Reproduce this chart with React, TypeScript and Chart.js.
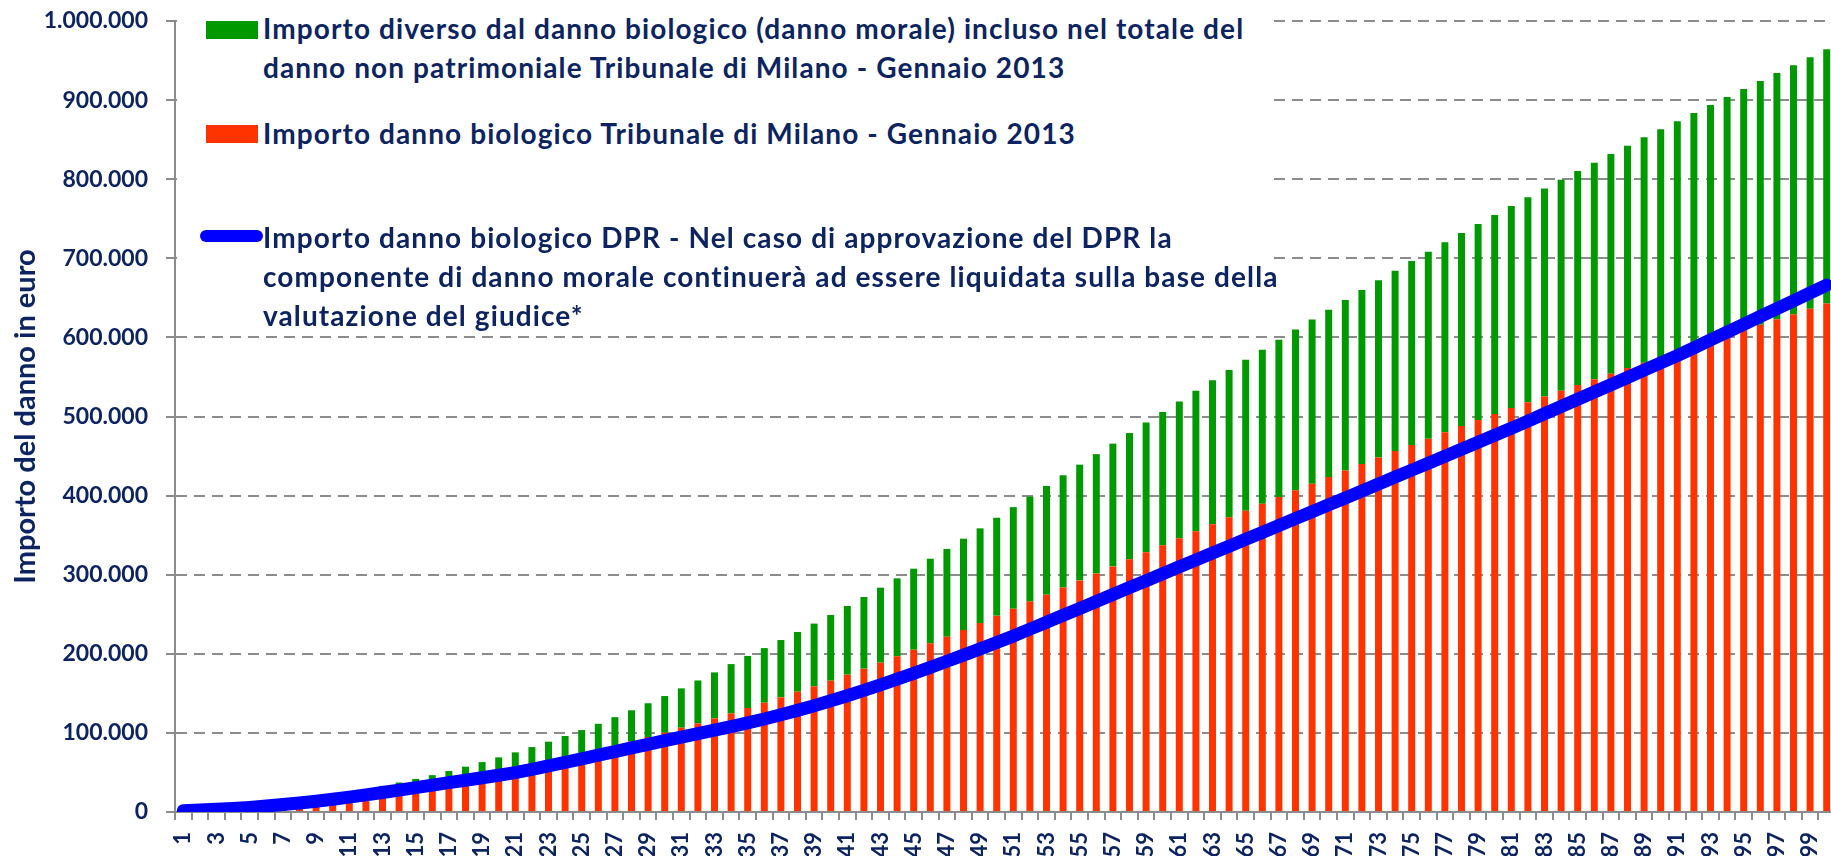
import React, { useEffect, useRef } from 'react';
import { Chart, registerables } from 'chart.js';

Chart.register(...registerables);

// Punti di invalidità (categorie asse X)
const punti: string[] = [
  '1','2','3','4','5','6','7','8','9','10','11','12','13','14','15','16','17','18','19','20',
  '21','22','23','24','25','26','27','28','29','30','31','32','33','34','35','36','37','38','39','40',
  '41','42','43','44','45','46','47','48','49','50','51','52','53','54','55','56','57','58','59','60',
  '61','62','63','64','65','66','67','68','69','70','71','72','73','74','75','76','77','78','79','80',
  '81','82','83','84','85','86','87','88','89','90','91','92','93','94','95','96','97','98','99','100',
];

// Importo danno biologico Tribunale di Milano - Gennaio 2013 (euro)
const dannoBiologicoMilano: number[] = [
  1040, 2080, 3200, 4640, 6240, 8160, 10240, 12480, 14880, 17300,
  19900, 22600, 25500, 28600, 31800, 35200, 38900, 42600, 46600, 50600,
  54800, 59300, 63700, 68300, 74000, 78400, 83900, 89300, 94800, 100300,
  106600, 112100, 118400, 124700, 131500, 138200, 145000, 152100, 158900, 166000,
  173600, 181200, 188800, 196800, 205200, 213300, 221600, 230100, 238900, 248200,
  257000, 266000, 274700, 283800, 292800, 301600, 310500, 319400, 328300, 337100,
  346000, 355000, 363800, 372600, 381000, 389600, 398100, 406700, 415000, 423400,
  431700, 440000, 448200, 456300, 464100, 472000, 480000, 488000, 495600, 503200,
  510600, 518000, 525200, 532500, 539800, 547000, 554200, 561400, 568100, 575200,
  582000, 588800, 595500, 602500, 609400, 615900, 622800, 629400, 636100, 643000,
];

// Importo diverso dal danno biologico (danno morale) - Tribunale di Milano (euro)
const dannoMoraleMilano: number[] = [
  260, 520, 800, 1160, 1560, 2040, 2560, 3120, 3720, 4500,
  5400, 6400, 7500, 8700, 10000, 11400, 12900, 14700, 16500, 18500,
  20600, 22800, 25200, 27800, 29600, 33100, 36000, 39300, 42700, 46300,
  49700, 54200, 58100, 62300, 65800, 69000, 72400, 75500, 79300, 83100,
  86800, 90600, 94800, 98600, 102400, 106900, 111000, 115400, 119700, 123800,
  128400, 132700, 137500, 141900, 146300, 150800, 155200, 159700, 164100, 168600,
  173000, 177400, 181900, 186300, 190600, 194800, 199000, 203300, 207500, 211700,
  215700, 219800, 223900, 228100, 232500, 236400, 240200, 244000, 247800, 251600,
  255500, 259100, 263200, 266900, 270500, 273900, 277600, 281000, 284800, 287900,
  291300, 294800, 298300, 301400, 304600, 308200, 311400, 314600, 318000, 321200,
];

// Importo danno biologico DPR (euro)
const dannoBiologicoDPR: number[] = [
  1700, 2400, 3400, 4400, 5800, 7500, 9400, 11400, 13600, 16100,
  18800, 21600, 24600, 27700, 30800, 34000, 37100, 40200, 43300, 46500,
  49700, 53900, 58200, 62600, 67200, 71800, 76400, 81000, 85600, 90200,
  94600, 99000, 103400, 107900, 112600, 117600, 122900, 128500, 134400, 140600,
  147000, 153800, 160800, 168000, 175400, 182900, 190600, 198400, 206300, 214300,
  222400, 231200, 239900, 248700, 257400, 266200, 275000, 283700, 292500, 301200,
  310000, 318700, 327400, 336100, 344800, 353500, 362200, 370900, 379600, 388300,
  397000, 405800, 414600, 423400, 432200, 441000, 449800, 458600, 467400, 476200,
  485000, 494200, 503400, 512600, 521800, 531000, 540200, 549400, 558600, 567800,
  577000, 586900, 596800, 606700, 616600, 626500, 636400, 646300, 656200, 666100,
];

const legendMorale: string[] = [
  'Importo diverso dal danno biologico (danno morale) incluso nel totale del',
  'danno non patrimoniale Tribunale di Milano - Gennaio 2013',
];
const legendBiologico: string[] = ['Importo danno biologico Tribunale di Milano - Gennaio 2013'];
const legendDPR: string[] = [
  'Importo danno biologico DPR - Nel caso di approvazione del DPR la',
  'componente di danno morale continuerà ad essere liquidata sulla base della',
  'valutazione del giudice*',
];
const yAxisTitle = 'Importo del danno in euro';

const GREEN = '#009900';
const RED = '#FF3300';
const BLUE = '#0000FF';
const NAVY = '#0C2461';
const GRID = '#8C8C8C';
const FONT = 'Lato, "Open Sans", sans-serif';

const fmt = (v: number) => String(Math.round(v)).replace(/\B(?=(\d{3})+(?!\d))/g, '.');

export default function App() {
  const ref = useRef<HTMLCanvasElement | null>(null);

  useEffect(() => {
    document.body.style.margin = '0';
    document.body.style.overflow = 'hidden';
    const canvas = ref.current;
    if (!canvas) return;
    const chart = new Chart(canvas, {
      type: 'bar',
      data: {
        labels: punti,
        datasets: [
          {
            type: 'line',
            label: legendDPR.join(' '),
            data: dannoBiologicoDPR,
            borderColor: BLUE,
            backgroundColor: BLUE,
            borderWidth: 13,
            pointRadius: 0,
            borderCapStyle: 'round',
            borderJoinStyle: 'round',
            fill: false,
            tension: 0,
            order: 0,
            stack: 'dpr',
          } as any,
          {
            type: 'bar',
            label: legendBiologico.join(' '),
            data: dannoBiologicoMilano,
            backgroundColor: RED,
            borderWidth: 0,
            barPercentage: 0.42,
            categoryPercentage: 1,
            order: 1,
            stack: 'milano',
          } as any,
          {
            type: 'bar',
            label: legendMorale.join(' '),
            data: dannoMoraleMilano,
            backgroundColor: GREEN,
            borderWidth: 0,
            barPercentage: 0.42,
            categoryPercentage: 1,
            order: 1,
            stack: 'milano',
          } as any,
        ],
      },
      options: {
        responsive: false,
        animation: false,
        devicePixelRatio: 1,
        layout: { padding: { top: 21, right: 5, left: 0, bottom: 0 } },
        plugins: {
          legend: { display: false },
          tooltip: { enabled: false },
        },
        scales: {
          x: {
            stacked: true,
            offset: true,
            grid: {
              drawOnChartArea: false,
              drawTicks: true,
              offset: true,
              tickLength: 8,
              tickWidth: 2,
              tickColor: GRID,
              color: GRID,
              lineWidth: 2,
            },
            border: { display: true, color: GRID, width: 2 },
            ticks: {
              autoSkip: false,
              minRotation: 90,
              maxRotation: 90,
              padding: 12,
              color: NAVY,
              font: { family: FONT, weight: 'bold', size: 22 },
              callback: (_v: any, i: number) => (i % 2 === 0 ? punti[i] : ''),
            },
            afterFit: (s: any) => {
              s.height = 88;
              s.paddingLeft = 0;
              s.paddingRight = 0;
            },
          } as any,
          y: {
            stacked: true,
            min: 0,
            max: 1000000,
            grid: {
              color: GRID,
              lineWidth: 2,
              tickLength: 9,
              tickWidth: 2,
              tickColor: GRID,
              tickBorderDash: [],
            },
            border: { display: true, color: GRID, width: 2, dash: [11, 7] },
            ticks: {
              stepSize: 100000,
              padding: 18,
              color: NAVY,
              font: { family: FONT, weight: 'bold', size: 23 },
              callback: (v: any) => fmt(Number(v)),
            },
            title: {
              display: true,
              text: yAxisTitle,
              color: NAVY,
              font: { family: FONT, weight: 'bold', size: 29 },
              padding: { top: 8, bottom: 0 },
            },
            afterFit: (s: any) => {
              s.width = 175;
              s.paddingTop = 0;
              s.paddingBottom = 0;
            },
          } as any,
        },
      },
    });
    return () => chart.destroy();
  }, []);

  const textStyle: React.CSSProperties = {
    position: 'absolute',
    left: 263,
    fontFamily: FONT,
    fontWeight: 700,
    fontSize: 28,
    letterSpacing: '1.1px',
    lineHeight: '39px',
    color: NAVY,
    whiteSpace: 'nowrap',
  };

  return (
    <div style={{ position: 'relative', width: 1831, height: 856, overflow: 'hidden', background: '#fff' }}>
      <canvas ref={ref} width={1840} height={900} style={{ position: 'absolute', left: 0, top: 0 }} />
      <div style={{ position: 'absolute', left: 177, top: 0, width: 1096, height: 332, background: '#fff' }} />
      <div style={{ position: 'absolute', left: 206, top: 21, width: 52, height: 18, background: GREEN }} />
      <div style={{ ...textStyle, top: 9 }}>
        {legendMorale.map((l, i) => (
          <div key={i}>{l}</div>
        ))}
      </div>
      <div style={{ position: 'absolute', left: 206, top: 125, width: 52, height: 18, background: RED }} />
      <div style={{ ...textStyle, top: 114 }}>
        {legendBiologico.map((l, i) => (
          <div key={i}>{l}</div>
        ))}
      </div>
      <div style={{ position: 'absolute', left: 200, top: 230, width: 63, height: 12, borderRadius: 6, background: BLUE }} />
      <div style={{ ...textStyle, top: 218 }}>
        {legendDPR.map((l, i) => (
          <div key={i}>{l}</div>
        ))}
      </div>
    </div>
  );
}
